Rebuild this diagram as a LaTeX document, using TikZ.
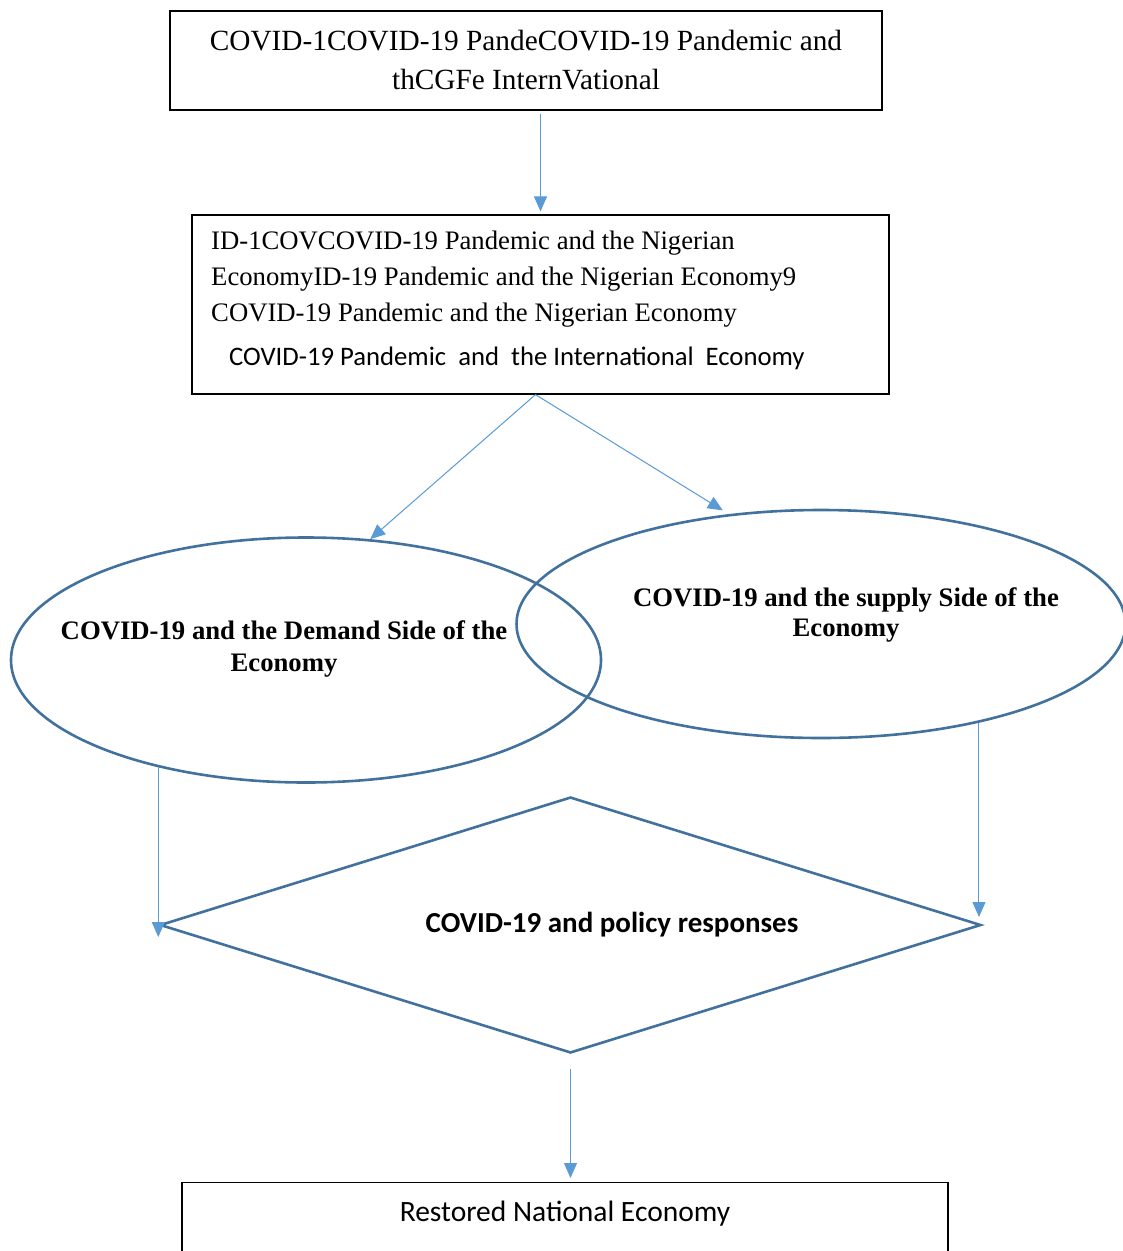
\documentclass[tikz,border=0pt]{standalone}
\usepackage{fontspec}
\setmainfont{Liberation Serif}
\newfontfamily\carlito{Carlito}
\usepackage{xcolor}
\definecolor{carrow}{HTML}{5B9BD5}
\definecolor{cshape}{HTML}{41719C}
\usepackage{tikz}
\usetikzlibrary{positioning,arrows.meta,shapes.geometric}

\begin{document}
\begin{tikzpicture}[x=1pt, y=-1pt, >={Triangle[length=15pt,width=13pt]},
  box/.style={draw=black, line width=1.2pt, fill=white, inner sep=0pt, align=center},
  oval/.style={draw=cshape, line width=2.6pt, ellipse, inner sep=0pt},
  link/.style={->, draw=carrow, line width=1pt, fill=carrow},
  lbl/.style={align=center, inner sep=0pt}]
  \clip (0,0) rectangle (1123,1251);
  \node[box, minimum width=712pt, minimum height=99pt, font=\fontsize{29.3}{39}\selectfont] (intl) at (526,60.5)
    {COVID-1COVID-19 PandeCOVID-19 Pandemic and\\thCGFe InternVational};
  \node[box, minimum width=697pt, minimum height=179pt] (econ) at (540.5,304.5) {};
  \node[lbl, align=left, anchor=north west, font=\fontsize{26.7}{36}\selectfont] (econtxt) at (211,231)
    {ID-1COVCOVID-19 Pandemic and the Nigerian\\
     EconomyID-19 Pandemic and the Nigerian Economy9\\
     COVID-19 Pandemic and the Nigerian Economy\\[8pt]
     \hspace*{18pt}{\carlito\fontsize{26.7}{30}\selectfont COVID-19 Pandemic\ \ and\ \ the International\ \ Economy}};
  \draw[link, shorten <=3pt, shorten >=3pt] (econ.north |- intl.south) -- (econ.north);
  % the two sides of the economy
  \node[oval, minimum width=590pt, minimum height=245pt] (dem) at (306,660) {};
  \node[oval, minimum width=609pt, minimum height=228pt] (sup) at (821,624) {};
  \node[lbl, font=\bfseries\fontsize{26.7}{32}\selectfont] (demtxt) at (284,649) {COVID-19 and the Demand Side of the\\Economy};
  \node[lbl, font=\bfseries\fontsize{26.7}{30}\selectfont] (suptxt) at (846,615) {COVID-19 and the supply Side of the\\Economy};
  \draw[link] ([xshift=-5pt]econ.south) -- (dem.62);
  \draw[link, shorten >=7pt] ([xshift=-5pt]econ.south) -- (sup.130);
  % policy responses
  \node[draw=cshape, line width=2.6pt, diamond, inner sep=0pt, minimum width=821pt, minimum height=256pt] (pol) at (570.5,925) {};
  \node[lbl, font=\carlito\bfseries\fontsize{29}{34}\selectfont] (poltxt) at (612,925) {COVID-19 and policy responses};
  \draw[link] (dem.-144) -- ([yshift=-12pt]dem.-144 |- pol.west);
  \draw[link] (sup.-32) -- ([yshift=8pt]sup.-32 |- pol.east);
  % outcome
  \node[box, anchor=north, minimum width=766pt, text height=35pt, text depth=80pt, inner ysep=4pt,
    font=\carlito\fontsize{29.5}{34}\selectfont] (rest) at (565,1182) {Restored National Economy};
  \draw[link, shorten <=15pt, shorten >=4pt] (pol.south) -- (pol.south |- rest.north);
\end{tikzpicture}
\end{document}
